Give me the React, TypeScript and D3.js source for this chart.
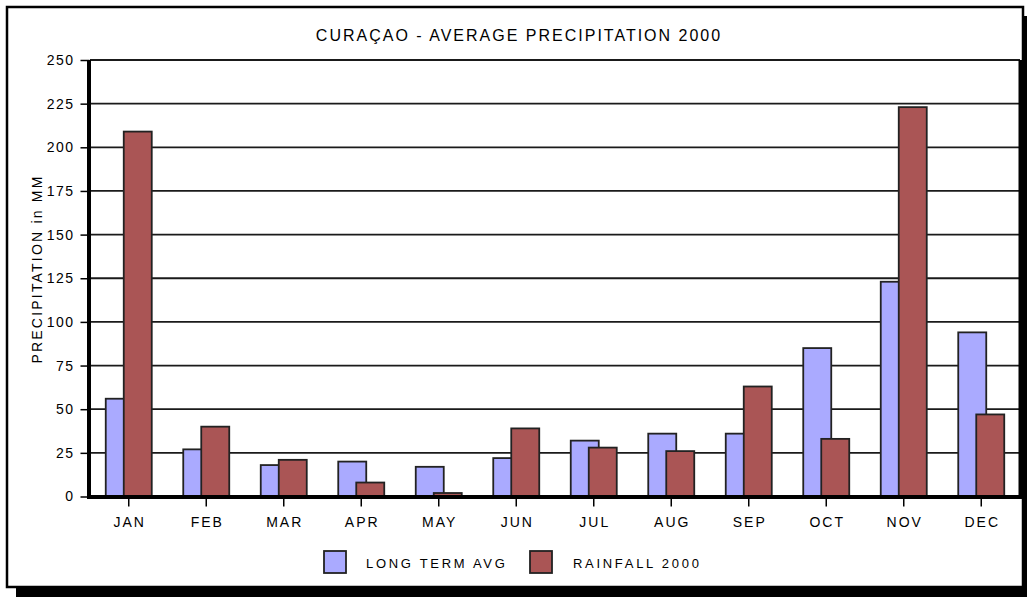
import { useEffect, useRef } from 'react';
import * as d3 from 'd3';

const months = ['JAN', 'FEB', 'MAR', 'APR', 'MAY', 'JUN', 'JUL', 'AUG', 'SEP', 'OCT', 'NOV', 'DEC'];
const longTermAvg = [56, 27, 18, 20, 17, 22, 32, 36, 36, 85, 123, 94];
const rainfall2000 = [209, 40, 21, 8, 2, 39, 28, 26, 63, 33, 223, 47];
const yTicks = [0, 25, 50, 75, 100, 125, 150, 175, 200, 225, 250];
const seriesNames = ['LONG TERM AVG', 'RAINFALL 2000'];
const seriesColors = ['#aaaaff', '#aa5555'];

export default function App() {
  const svgRef = useRef<SVGSVGElement>(null);

  useEffect(() => {
    if (!svgRef.current) return;
    const width = 1027;
    const height = 597;
    const plot = { left: 90, right: 1020, top: 60, bottom: 496.5 };
    const font = '"Liberation Sans", Arial, sans-serif';

    d3.select(svgRef.current).selectAll('*').remove();
    const svg = d3.select(svgRef.current)
      .attr('width', width)
      .attr('height', height)
      .style('font-family', font);

    // Frame with drop shadow
    svg.append('rect')
      .attr('x', 16).attr('y', 16)
      .attr('width', 1016).attr('height', 581)
      .attr('fill', '#000');
    svg.append('rect')
      .attr('x', 7).attr('y', 7)
      .attr('width', 1016).attr('height', 580)
      .attr('fill', '#fff')
      .attr('stroke', '#000')
      .attr('stroke-width', 2.5);

    const xScale = d3.scaleBand<string>()
      .domain(months)
      .range([plot.left, plot.right]);

    const yScale = d3.scaleLinear()
      .domain([0, 250])
      .range([plot.bottom, plot.top]);

    // Gridlines
    svg.append('g')
      .selectAll('line')
      .data(yTicks)
      .join('line')
      .attr('x1', plot.left)
      .attr('x2', plot.right)
      .attr('y1', d => yScale(d))
      .attr('y2', d => yScale(d))
      .attr('stroke', '#1a1a1a')
      .attr('stroke-width', 1.8);

    // Bars: long term avg first, rainfall drawn over it
    const barW = 28;
    const offsets = [-23, -5];
    [longTermAvg, rainfall2000].forEach((values, si) => {
      svg.append('g')
        .selectAll('rect')
        .data(values)
        .join('rect')
        .attr('x', (d, i) => xScale(months[i])! + xScale.bandwidth() / 2 + offsets[si])
        .attr('y', d => yScale(d))
        .attr('width', barW)
        .attr('height', d => yScale(0) - yScale(d))
        .attr('fill', seriesColors[si])
        .attr('stroke', '#222')
        .attr('stroke-width', 1.8);
    });

    // Y axis
    const yAxis = svg.append('g')
      .attr('transform', `translate(${plot.left - 0.5},0)`)
      .call(d3.axisLeft(yScale).tickValues(yTicks).tickSize(9).tickPadding(6));
    yAxis.select('.domain').remove();
    yAxis.selectAll('line').attr('stroke', '#000').attr('stroke-width', 1.5);
    yAxis.selectAll('text')
      .style('font-size', '14px')
      .style('font-family', font)
      .style('letter-spacing', '1.5px')
      .style('fill', '#000');

    // X axis
    const xAxis = svg.append('g')
      .attr('transform', `translate(0,${plot.bottom})`)
      .call(d3.axisBottom(xScale).tickSize(10).tickPadding(11));
    xAxis.select('.domain').remove();
    xAxis.selectAll('line').attr('stroke', '#000').attr('stroke-width', 1.5);
    xAxis.selectAll('text')
      .attr('dx', 1)
      .style('font-size', '14px')
      .style('font-family', font)
      .style('letter-spacing', '2px')
      .style('fill', '#000');

    // Thick plot borders: left, bottom, right
    svg.append('line')
      .attr('x1', plot.left - 1).attr('x2', plot.left - 1)
      .attr('y1', plot.top).attr('y2', plot.bottom + 2)
      .attr('stroke', '#000').attr('stroke-width', 4);
    svg.append('line')
      .attr('x1', plot.left - 3).attr('x2', plot.right + 2)
      .attr('y1', plot.bottom + 0.5).attr('y2', plot.bottom + 0.5)
      .attr('stroke', '#000').attr('stroke-width', 4);
    svg.append('line')
      .attr('x1', plot.right + 0.5).attr('x2', plot.right + 0.5)
      .attr('y1', plot.top).attr('y2', plot.bottom + 2)
      .attr('stroke', '#000').attr('stroke-width', 4);

    // Title
    svg.append('text')
      .attr('x', 519)
      .attr('y', 41)
      .attr('text-anchor', 'middle')
      .style('font-size', '16px')
      .style('letter-spacing', '2px')
      .style('fill', '#000')
      .text('CURAÇAO - AVERAGE PRECIPITATION 2000');

    // Y axis label
    svg.append('text')
      .attr('transform', 'rotate(-90)')
      .attr('x', -269)
      .attr('y', 42)
      .attr('text-anchor', 'middle')
      .style('font-size', '14px')
      .style('letter-spacing', '2.2px')
      .style('fill', '#000')
      .text('PRECIPITATION in MM');

    // Legend
    const legendX = [324, 530];
    seriesNames.forEach((name, i) => {
      const row = svg.append('g')
        .attr('transform', `translate(${legendX[i]},551)`);
      row.append('rect')
        .attr('width', 22)
        .attr('height', 22)
        .attr('fill', seriesColors[i])
        .attr('stroke', '#222')
        .attr('stroke-width', 1.8);
      row.append('text')
        .attr('x', i === 0 ? 42 : 43)
        .attr('y', 16.5)
        .style('font-size', '13px')
        .style('letter-spacing', '2.7px')
        .style('fill', '#000')
        .text(name);
    });
  }, []);

  return (
    <div style={{ position: 'absolute', left: 0, top: 0 }}>
      <svg ref={svgRef}></svg>
    </div>
  );
}
